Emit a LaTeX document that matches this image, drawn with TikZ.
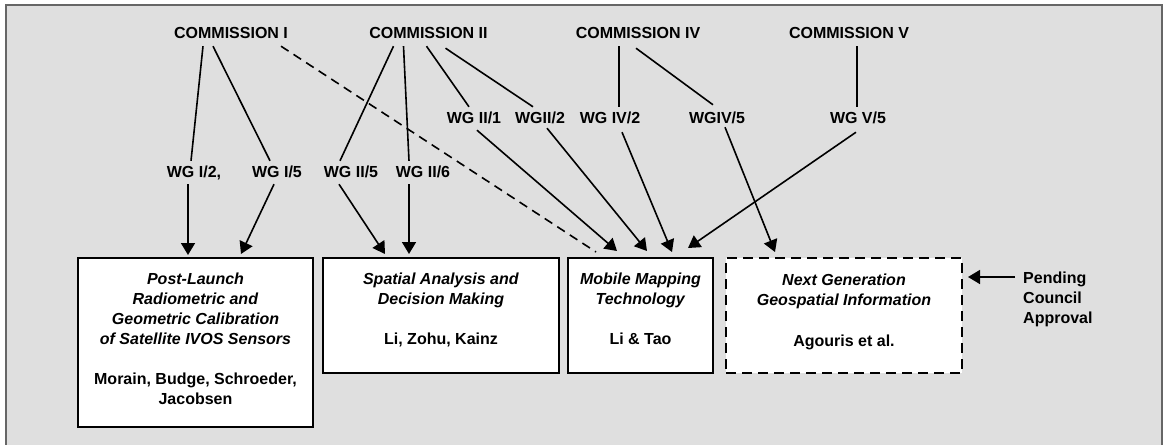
\documentclass[tikz,border=0pt]{standalone}
\usepackage{fontspec}
\setmainfont{Liberation Sans}
\usetikzlibrary{arrows.meta}
\definecolor{panel}{HTML}{DFDFDF}
\definecolor{rim}{HTML}{666666}
\begin{document}
\begin{tikzpicture}[x=1pt,y=-1pt,
  lbl/.style={font=\fontsize{16}{20}\selectfont\bfseries, inner xsep=0pt, inner ysep=4pt, text height=12pt, text depth=3pt, anchor=base},
  link/.style={line width=1.6pt},
  arr/.style={line width=1.6pt, -{Triangle[length=12pt,width=14pt]}},
  dashlink/.style={line width=1.6pt, dash pattern=on 9pt off 6pt},
  boxframe/.style={draw, line width=2pt, fill=white},
  pendbox/.style={boxframe, dash pattern=on 10pt off 6pt},
  btext/.style={font=\fontsize{16}{20}\selectfont\bfseries, align=center, inner sep=0pt, anchor=north},
]
\useasboundingbox (0,0) rectangle (1166,444);
\fill[panel] (6,5) rectangle (1162,450);
\draw[rim, line width=2pt] (6,450) -- (6,5) -- (1162,5) -- (1162,450);

% commissions
\node[lbl] (c1) at (231,39) {COMMISSION I};
\node[lbl] (c2) at (428.5,39) {COMMISSION II};
\node[lbl] (c4) at (638,39) {COMMISSION IV};
\node[lbl] (c5) at (849,39) {COMMISSION V};
% working groups
\node[lbl] (w21) at (474,123) {WG II/1};
\node[lbl] (w22) at (540,123) {WGII/2};
\node[lbl] (w42) at (610,123) {WG IV/2};
\node[lbl] (w45) at (717,123) {WGIV/5};
\node[lbl] (w55) at (858,123) {WG V/5};
\node[lbl] (w12) at (194,177) {WG I/2,};
\node[lbl] (w15) at (277,177) {WG I/5};
\node[lbl] (w25) at (351,177) {WG II/5};
\node[lbl] (w26) at (423,177) {WG II/6};

% boxes
\node[boxframe, minimum width=235pt, minimum height=169pt] (b1) at (195.5,342.5) {};
\node[boxframe, minimum width=236pt, minimum height=115pt] (b2) at (441,315.5) {};
\node[boxframe, minimum width=145pt, minimum height=115pt] (b3) at (640.5,315.5) {};
\node[pendbox, minimum width=236pt, minimum height=115pt] (b4) at (844,315.5) {};

\node[btext] (b1t) at ([yshift=-16pt]b1.north) {\textit{Post-Launch}\\\textit{Radiometric and}\\\textit{Geometric Calibration}\\\textit{of Satellite IVOS Sensors}\\[20pt]Morain, Budge, Schroeder,\\Jacobsen};
\node[btext] (b2t) at ([yshift=-16pt]b2.north) {\textit{Spatial Analysis and}\\\textit{Decision Making}\\[20pt]Li, Zohu, Kainz};
\node[btext] (b3t) at ([yshift=-16pt]b3.north) {\textit{Mobile Mapping}\\\textit{Technology}\\[20pt]Li \& Tao};
\node[btext] (b4t) at ([yshift=-17pt]b4.north) {\textit{Next Generation}\\\textit{Geospatial Information}\\[21pt]Agouris et al.};

\node[btext, align=left, anchor=north west] (pend) at (1023,271.5) {Pending\\Council\\Approval};
\coordinate (pa) at (1015,277);

% commission -> working group lines
\draw[link] ([xshift=-28pt]c1.south) -- ([xshift=-3pt]w12.north);
\draw[link] ([xshift=-18pt]c1.south) -- ([xshift=-7pt]w15.north);
\draw[link] ([xshift=-35pt]c2.south) -- ([xshift=-11pt]w25.north);
\draw[link] ([xshift=-25pt]c2.south) -- ([xshift=-14pt]w26.north);
\draw[link] ([xshift=-2pt]c2.south) -- ([xshift=-5pt]w21.north);
\draw[link] ([xshift=17pt,yshift=-2pt]c2.south) -- ([xshift=-7pt]w22.north);
\draw[link] ([xshift=-19pt]c4.south) -- ([xshift=9pt]w42.north);
\draw[link] ([xshift=-2pt,yshift=-2pt]c4.south) -- ([xshift=-4pt,yshift=2pt]w45.north);
\draw[link] ([xshift=8pt]c5.south) -- ([xshift=-1pt]w55.north);
\draw[dashlink] ([xshift=50pt]c1.south) -- ([xshift=-44.5pt,yshift=5pt]b3.north);

% working group -> box arrows
\draw[arr] ([xshift=-6pt]w12.south) -- ([xshift=-7.5pt,yshift=2pt]b1.north);
\draw[arr] ([xshift=-3pt]w15.south) -- ([xshift=45.5pt,yshift=3pt]b1.north);
\draw[arr] ([xshift=-12pt]w25.south) -- ([xshift=-56pt,yshift=3pt]b2.north);
\draw[arr] ([xshift=-14pt]w26.south) -- ([xshift=-32pt,yshift=3pt]b2.north);
\draw[arr] ([xshift=3pt]w21.south) -- ([xshift=-23.5pt,yshift=6pt]b3.north);
\draw[arr] ([xshift=7pt,yshift=2pt]w22.south) -- ([xshift=6.5pt,yshift=6pt]b3.north);
\draw[arr] ([xshift=12pt,yshift=-2pt]w42.south) -- ([xshift=31.5pt,yshift=5pt]b3.north);
\draw[arr] ([xshift=8pt,yshift=3pt]w45.south) -- ([xshift=-69pt,yshift=5pt]b4.north);
\draw[arr] ([xshift=-2pt,yshift=-2pt]w55.south) -- ([xshift=47.5pt,yshift=9pt]b3.north);
\draw[arr, shorten >=5pt] (pa) -- (pa -| b4.east);
\end{tikzpicture}
\end{document}
